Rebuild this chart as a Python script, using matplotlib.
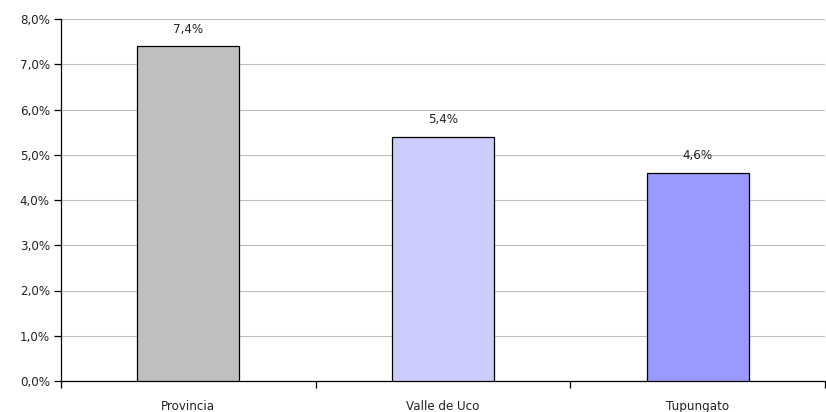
import matplotlib
matplotlib.use("Agg")
import matplotlib.pyplot as plt
from matplotlib.ticker import FixedLocator, FuncFormatter

categories = ["Provincia", "Valle de Uco", "Tupungato"]
values = [7.4, 5.4, 4.6]
colors = ["#C0C0C0", "#CCCCFF", "#9999FF"]
yticks = [0, 1, 2, 3, 4, 5, 6, 7, 8]

plt.rcParams['font.family'] = ['DejaVu Sans']
FS = 8.6

fig = plt.figure(figsize=(8.26, 4.12), dpi=100)
ax = fig.add_axes([61/826, 1-381/412, (825-61)/826, (381-19)/412])

x = list(range(len(categories)))
ax.bar(x, values, width=0.4, color=colors, edgecolor="black", linewidth=0.9, zorder=3)
for xi, v in zip(x, values):
    ax.annotate(f"{v:.1f}%".replace(".", ","), (xi, v), xytext=(0, 7.5), textcoords="offset points",
                ha="center", va="bottom", fontsize=FS, color="#222222")

ax.set_xlim(-0.5, 2.5)
ax.set_ylim(0, 8)
ax.set_yticks(yticks)
ax.yaxis.set_major_formatter(FuncFormatter(lambda v, p: f"{v:.1f}%".replace(".", ",")))
ax.yaxis.grid(True, color="#BFBFBF", linewidth=0.8, zorder=0)
ax.set_axisbelow(True)

ax.set_xticks(x)
ax.set_xticklabels(categories, fontsize=FS, color="#222222")
ax.tick_params(axis="x", which="major", length=0, pad=13.5)
ax.xaxis.set_minor_locator(FixedLocator([-0.5, 0.5, 1.5, 2.5]))
ax.tick_params(axis="x", which="minor", length=5, width=0.9, direction="out")
ax.tick_params(axis="y", length=5, width=0.9, labelsize=FS, labelcolor="#222222", pad=3)

for s in ["top", "right"]:
    ax.spines[s].set_visible(False)
for s in ["left", "bottom"]:
    ax.spines[s].set_linewidth(0.9)

fig.savefig("out.png", dpi=100)
